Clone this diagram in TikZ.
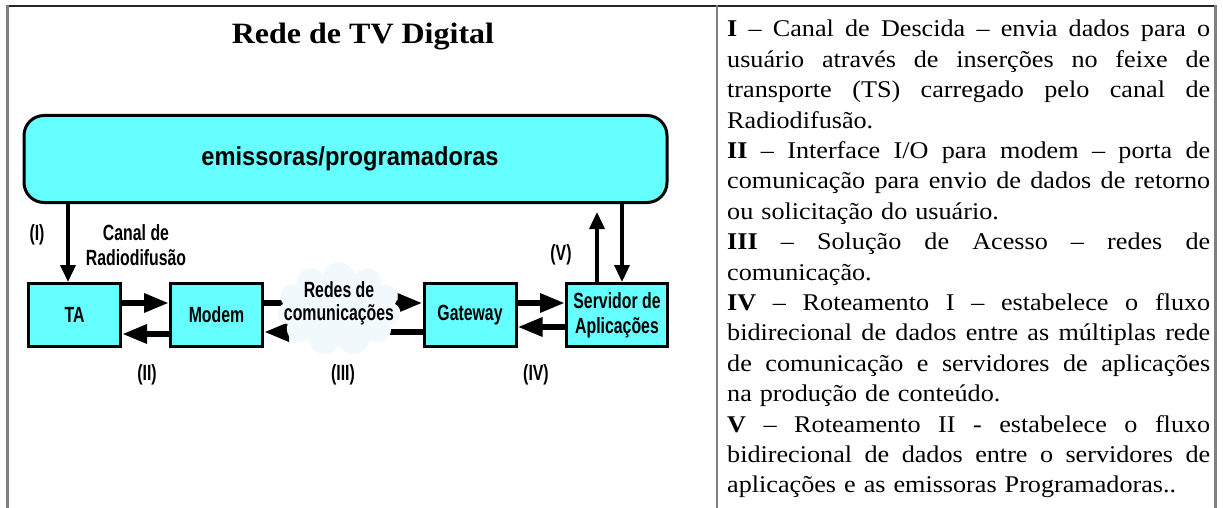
\documentclass[tikz,border=0pt]{standalone}
\usepackage{fontspec}
\setmainfont{Liberation Serif}
\newfontfamily\descfont[FakeStretch=1.09]{Liberation Serif}
\newfontfamily\titlefont[FakeStretch=1.085]{Liberation Serif}
\newfontfamily\diagfont[FakeStretch=0.72]{Liberation Sans}
\newfontfamily\emisfont[FakeStretch=0.91]{Liberation Sans}
\usetikzlibrary{arrows.meta,shapes.symbols,calc}
\definecolor{cy}{HTML}{66FFFF}
\definecolor{cloudc}{HTML}{F2F9FC}
\definecolor{rulec}{HTML}{7F7F7F}
\newcommand\jline[1]{{\spaceskip=0pt\xspaceskip=0pt\makebox[483pt][s]{#1}}}
\begin{document}
\begin{tikzpicture}[x=1pt,y=-1pt,
  box/.style={draw, line width=3pt, fill=cy, minimum width=92pt, minimum height=63pt,
    inner sep=0pt, align=center, font=\diagfont\bfseries\fontsize{22}{25}\selectfont},
  lbl/.style={inner sep=0pt, align=center, font=\diagfont\bfseries\fontsize{22}{25}\selectfont},
  harrow/.style={line width=6pt, -{Triangle[length=25pt,width=18pt]}},
  varrow/.style={line width=3.5pt, -{Triangle[length=17pt,width=15pt]}},
  tabrule/.style={rulec, line width=2.5pt}]
\useasboundingbox (0,0) rectangle (1223,508);
\fill[white] (0,0) rectangle (1223,508);
% table frame
\draw[black!85, line width=1.5pt] (7,6) -- (1216,6);
\draw[tabrule] (7.5,5.5) -- (7.5,508);
\draw[tabrule] (717,5.5) -- (717,508);
\draw[tabrule] (1215.5,5.5) -- (1215.5,508);
% title
\node[anchor=base, inner sep=0pt, font=\titlefont\bfseries\fontsize{29.5}{34}\selectfont] (title) at (363,44) {Rede de TV Digital};
% top rectangle
\node[draw, line width=3pt, fill=cy, rounded corners=20pt, minimum width=643pt, minimum height=87pt,
  font=\emisfont\bfseries\fontsize{26}{30}\selectfont] (emis) at (345.5,159) {\hspace*{9pt}emissoras/programadoras};
% boxes
\node[box] (ta) at (74.5,315) {TA};
\node[box] (modem) at (216.5,315) {Modem};
\node[box] (gateway) at (470,315) {Gateway};
\node[box, minimum width=101pt] (servidor) at (617,315) {Servidor de\\Aplicações};
% horizontal arrows
\draw[harrow] ([yshift=12pt]ta.east) -- ([yshift=12pt]modem.west);
\draw[harrow] ([yshift=-19pt]modem.west) -- ([yshift=-19pt]ta.east);
\draw[harrow] ([yshift=12pt]modem.east) -- ([yshift=12pt]gateway.west);
\draw[harrow] ([yshift=-17pt]gateway.west) -- ([yshift=-17pt]modem.east);
\draw[harrow] ([yshift=12pt]gateway.east) -- ([yshift=12pt]servidor.west);
\draw[harrow] ([yshift=-12pt]servidor.west) -- ([yshift=-12pt]gateway.east);
% cloud
\node[cloud, cloud puffs=11, fill=cloudc, minimum width=124pt, minimum height=94pt, aspect=1.3, inner sep=0pt] (cloud) at (339,309) {};
\node[lbl, font=\diagfont\bfseries\fontsize{22}{23}\selectfont] (redes) at (339,303.5) {Redes de\\comunicações};
% vertical arrows
\draw[varrow] ($(ta.north |- emis.south)+(-6.5,0)$) -- ($(ta.north)+(-6.5,0)$);
\draw[varrow] ($(servidor.north)+(-20,0)$) -- ($(servidor.north |- emis.south)+(-20,8)$);
\draw[varrow] ($(servidor.north |- emis.south)+(5,0)$) -- ($(servidor.north)+(5,0)$);
% labels
\node[lbl] (l1) at (37,235) {(I)};
\node[lbl] (canal) at (136,245.5) {Canal de\\Radiodifusão};
\node[lbl] (l5) at (561,255) {(V)};
\node[lbl] (l2) at (147,375) {(II)};
\node[lbl] (l3) at (343,375) {(III)};
\node[lbl] (l4) at (536,375) {(IV)};
% description
\node[anchor=north west, text width=483pt, align=left, inner sep=0pt,
  font=\descfont\fontsize{24}{30.4}\selectfont] (desc) at (727,15.4) {%
\strut\jline{\textbf{I} – Canal de Descida – envia dados para o}\\
\jline{usuário através de inserções no feixe de}\\
\jline{transporte (TS) carregado pelo canal de}\\
Radiodifusão.\\
\jline{\textbf{II} – Interface I/O para modem – porta de}\\
\jline{comunicação para envio de dados de retorno}\\
ou solicitação do usuário.\\
\jline{\textbf{III} – Solução de Acesso – redes de}\\
comunicação.\\
\jline{\textbf{IV} – Roteamento I – estabelece o fluxo}\\
\jline{bidirecional de dados entre as múltiplas rede}\\
\jline{de comunicação e servidores de aplicações}\\
na produção de conteúdo.\\
\jline{\textbf{V} – Roteamento II - estabelece o fluxo}\\
\jline{bidirecional de dados entre o servidores de}\\
aplicações e as emissoras Programadoras..};
\end{tikzpicture}
\end{document}
